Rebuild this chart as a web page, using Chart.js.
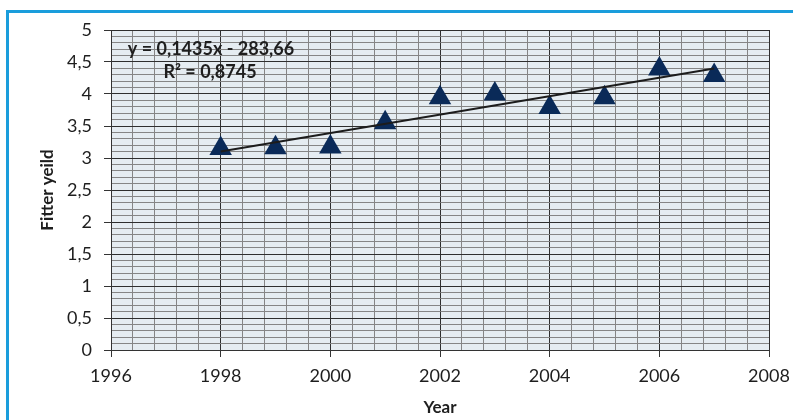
<!DOCTYPE html>
<html>
<head>
<meta charset="utf-8">
<script src="https://cdn.jsdelivr.net/npm/chart.js@4/dist/chart.umd.min.js"></script>
<style>
  html, body { margin: 0; padding: 0; background: #ffffff; }
  #wrap { position: relative; width: 793px; height: 420px; overflow: hidden; }
  #c { position: absolute; left: 0; top: 0; }
  .frameTop { position: absolute; left: 6px; top: 10px; width: 787px; height: 3px; background: #1a9ddc; }
  .frameLeft { position: absolute; left: 6px; top: 10px; width: 3px; height: 410px; background: #1a9ddc; }
</style>
</head>
<body>
<div id="wrap">
  <canvas id="c" width="793" height="420"></canvas>
  <div class="frameTop"></div>
  <div class="frameLeft"></div>
</div>
<script>
// ---- data ----
const years = [1998, 1999, 2000, 2001, 2002, 2003, 2004, 2005, 2006, 2007];
const yieldValues = [3.15, 3.16, 3.17, 3.55, 3.94, 4.00, 3.79, 3.94, 4.39, 4.29];
const trendYears = [1998, 2007];
const trendValues = [3.10, 4.40];
const equationText = 'y = 0,1435x - 283,66';
const r2Text = 'R² = 0,8745';
const xAxisTitle = 'Year';
const yAxisTitle = 'Fitter yeild';
const xMin = 1996, xMax = 2008, xMajor = 2, xMinor = 0.4;
const yMin = 0, yMax = 5, yMajor = 0.5, yMinor = 0.1;

const isMajor = (v, step) => Math.abs(v / step - Math.round(v / step)) < 1e-6;
const fmt = v => String(Math.round(v * 10) / 10).replace('.', ',');

const scatterPts = years.map((x, i) => ({x, y: yieldValues[i]}));
const trendPts = trendYears.map((x, i) => ({x, y: trendValues[i]}));

const plotBg = {
  id: 'plotBg',
  beforeDraw(chart) {
    const {ctx, chartArea: a} = chart;
    ctx.save();
    ctx.fillStyle = '#e5ecf1';
    ctx.fillRect(a.left, a.top, a.right - a.left, a.bottom - a.top);
    ctx.restore();
  }
};

const eqLabel = {
  id: 'eqLabel',
  afterDraw(chart) {
    const {ctx, chartArea: a} = chart;
    ctx.save();
    ctx.fillStyle = '#1e1e1e';
    ctx.font = 'bold 18px Lato';
    ctx.textAlign = 'center';
    ctx.textBaseline = 'middle';
    ctx.fillText(equationText, a.left + 100, a.top + 19);
    ctx.fillText(r2Text, a.left + 99, a.top + 42);
    ctx.restore();
  }
};

new Chart(document.getElementById('c'), {
  type: 'scatter',
  data: {
    datasets: [
      {
        type: 'line',
        data: trendPts,
        borderColor: '#1c1c1c',
        borderWidth: 2,
        pointRadius: 0,
        fill: false,
        order: 0
      },
      {
        data: scatterPts,
        pointStyle: 'triangle',
        pointRadius: 13,
        backgroundColor: '#0a2a58',
        borderColor: '#0a2a58',
        borderWidth: 0,
        order: 1
      }
    ]
  },
  options: {
    responsive: false,
    animation: false,
    events: [],
    layout: { padding: { left: 0, top: 30, right: 24, bottom: 0 } },
    plugins: { legend: { display: false }, tooltip: { enabled: false } },
    scales: {
      x: {
        type: 'linear',
        min: xMin, max: xMax,
        afterFit(s) { s.height = 70; s.paddingRight = 0; s.paddingLeft = 0; },
        border: { color: '#333333', width: 1 },
        grid: {
          color: c => isMajor(c.tick.value, xMajor) ? '#2e2e2e' : '#858585',
          tickColor: c => isMajor(c.tick.value, xMajor) ? '#333333' : 'rgba(0,0,0,0)',
          tickLength: 7,
          lineWidth: 1
        },
        ticks: {
          stepSize: xMinor,
          autoSkip: false,
          maxRotation: 0,
          padding: 8,
          color: '#1e1e1e',
          font: { family: 'Lato', size: 18 },
          callback: v => isMajor(v, xMajor) ? String(Math.round(v)) : ''
        },
        title: {
          display: true,
          text: xAxisTitle,
          color: '#1e1e1e',
          font: { family: 'Lato', size: 17, weight: 'bold' },
          padding: { top: 0, bottom: 2 }
        }
      },
      y: {
        type: 'linear',
        min: yMin, max: yMax,
        afterFit(s) { s.width = 111; },
        border: { color: '#333333', width: 1 },
        grid: {
          color: c => isMajor(c.tick.value, yMajor) ? '#2e2e2e' : '#858585',
          tickColor: c => isMajor(c.tick.value, yMajor) ? '#333333' : 'rgba(0,0,0,0)',
          tickLength: 7,
          lineWidth: 1
        },
        ticks: {
          stepSize: yMinor,
          autoSkip: false,
          padding: 12,
          color: '#1e1e1e',
          font: { family: 'Lato', size: 18 },
          callback: v => isMajor(v, yMajor) ? fmt(v) : ''
        },
        title: {
          display: true,
          text: yAxisTitle,
          color: '#1e1e1e',
          font: { family: 'Lato', size: 17, weight: 'bold' },
          padding: { top: 37, bottom: 0 }
        }
      }
    }
  },
  plugins: [plotBg, eqLabel]
});
</script>
</body>
</html>
